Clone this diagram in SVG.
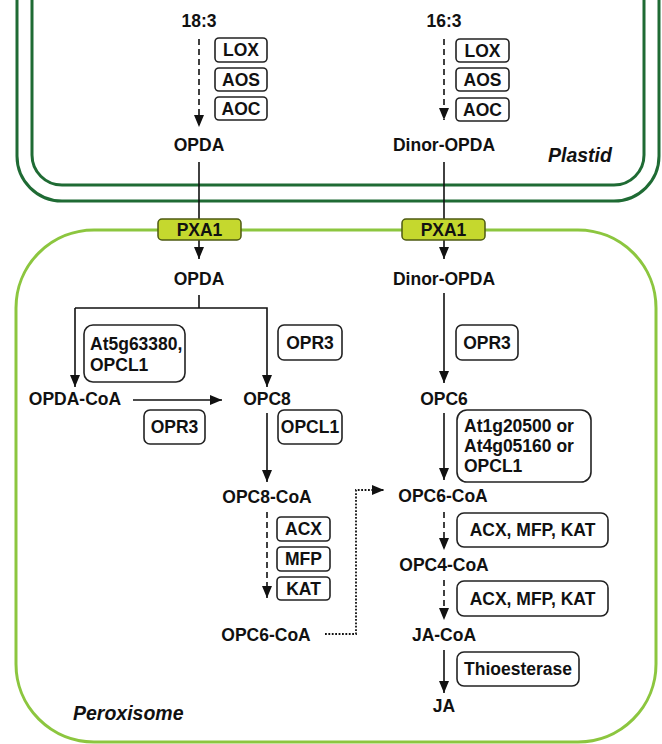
<svg xmlns="http://www.w3.org/2000/svg" width="662" height="744" viewBox="0 0 662 744">
<defs>
<marker id="ah" viewBox="0 0 12 10" refX="12" refY="5" markerWidth="12" markerHeight="10" markerUnits="userSpaceOnUse" orient="auto"><path d="M0,0 L12,5 L0,10 z" fill="#111"/></marker>
<style>
.t{font-family:"Liberation Sans",Arial,sans-serif;font-weight:bold;font-size:17.5px;fill:#111;text-anchor:middle}
.tl{font-family:"Liberation Sans",Arial,sans-serif;font-weight:bold;font-size:17.5px;fill:#111}
.it{font-family:"Liberation Sans",Arial,sans-serif;font-weight:bold;font-style:italic;font-size:19.5px;fill:#111}
.box{fill:#fff;stroke:#222;stroke-width:1.6}
.pl{fill:none;stroke:#1f6b34;stroke-width:3}
.px{fill:none;stroke:#8cc63f;stroke-width:3}
.pxa{fill:#c5d82e;stroke:#4d5a12;stroke-width:1.5}
.s{fill:none;stroke:#111;stroke-width:1.6}
.d{fill:none;stroke:#111;stroke-width:1.6;stroke-dasharray:6,4}
.o{fill:none;stroke:#111;stroke-width:1.8;stroke-dasharray:1.8,1.6}
</style>
</defs>
<g id="membranes">
<path class="pl" d="M32,0 V155 A30,30 0 0 0 62,185 H614 A30,30 0 0 0 644,155 V0"/>
<path class="pl" d="M17,0 V156 A45,45 0 0 0 62,201 H614 A45,45 0 0 0 659,156 V0"/>
<rect class="px" x="16" y="230" width="640" height="512" rx="78" ry="78"/>
<text class="it" x="548" y="162">Plastid</text>
<text class="it" x="73" y="720">Peroxisome</text>
</g>
<g id="connectors">
<line class="d" x1="199" y1="39" x2="199" y2="127" marker-end="url(#ah)"/>
<line class="d" x1="444" y1="39" x2="444" y2="120" marker-end="url(#ah)"/>
<line class="s" x1="199" y1="162" x2="199" y2="259" marker-end="url(#ah)"/>
<line class="s" x1="444" y1="162" x2="444" y2="259" marker-end="url(#ah)"/>
<path class="s" d="M199,295 V308"/>
<path class="s" d="M75,308 H267 V387" marker-end="url(#ah)"/>
<line class="s" x1="75" y1="308" x2="75" y2="387" marker-end="url(#ah)"/>
<line class="s" x1="133" y1="400" x2="222" y2="400" marker-end="url(#ah)"/>
<line class="s" x1="267" y1="413" x2="267" y2="482" marker-end="url(#ah)"/>
<line class="d" x1="267" y1="512" x2="267" y2="598" marker-end="url(#ah)"/>
<path class="o" d="M325,634 H356 V490 H384" marker-end="url(#ah)"/>
<line class="s" x1="444" y1="293" x2="444" y2="383" marker-end="url(#ah)"/>
<line class="s" x1="444" y1="413" x2="444" y2="480" marker-end="url(#ah)"/>
<line class="d" x1="444" y1="512" x2="444" y2="550" marker-end="url(#ah)"/>
<line class="d" x1="444" y1="580" x2="444" y2="620" marker-end="url(#ah)"/>
<line class="s" x1="444" y1="650" x2="444" y2="693" marker-end="url(#ah)"/>
</g>
<g id="pxa1-left"><rect class="pxa" x="158" y="219" width="83" height="21" rx="4"/><text class="t" x="199.5" y="236">PXA1</text></g>
<g id="pxa1-right"><rect class="pxa" x="402" y="219" width="83" height="21" rx="4"/><text class="t" x="443.5" y="236">PXA1</text></g>
<g id="n-183"><text class="t" x="199" y="27">18:3</text></g>
<g id="n-163"><text class="t" x="444" y="27">16:3</text></g>
<g id="e-lox1"><rect class="box" x="215" y="38" width="52" height="24" rx="4"/><text class="t" x="241" y="56">LOX</text></g>
<g id="e-aos1"><rect class="box" x="215" y="68" width="52" height="23" rx="4"/><text class="t" x="241" y="86">AOS</text></g>
<g id="e-aoc1"><rect class="box" x="215" y="97" width="52" height="23" rx="4"/><text class="t" x="241" y="115">AOC</text></g>
<g id="e-lox2"><rect class="box" x="456" y="39" width="53" height="23" rx="4"/><text class="t" x="482.5" y="57">LOX</text></g>
<g id="e-aos2"><rect class="box" x="456" y="68" width="53" height="23" rx="4"/><text class="t" x="482.5" y="86">AOS</text></g>
<g id="e-aoc2"><rect class="box" x="456" y="98" width="53" height="23" rx="4"/><text class="t" x="482.5" y="116">AOC</text></g>
<g id="n-opda-plastid"><text class="t" x="199" y="151">OPDA</text></g>
<g id="n-dinor-plastid"><text class="t" x="444" y="151">Dinor-OPDA</text></g>
<g id="n-opda"><text class="t" x="199" y="285">OPDA</text></g>
<g id="n-dinor"><text class="t" x="444" y="285">Dinor-OPDA</text></g>
<g id="e-at5g"><rect class="box" x="84" y="325" width="101" height="57" rx="9"/><text class="tl" x="90" y="350">At5g63380,</text><text class="tl" x="90" y="371">OPCL1</text></g>
<g id="e-opr3a"><rect class="box" x="278" y="325" width="64" height="35" rx="6"/><text class="t" x="310" y="349">OPR3</text></g>
<g id="n-opdacoa"><text class="t" x="75" y="405">OPDA-CoA</text></g>
<g id="n-opc8"><text class="t" x="267" y="405">OPC8</text></g>
<g id="e-opr3b"><rect class="box" x="144" y="410" width="61" height="34" rx="6"/><text class="t" x="174.5" y="433">OPR3</text></g>
<g id="e-opcl1"><rect class="box" x="278" y="410" width="64" height="34" rx="6"/><text class="t" x="310" y="433">OPCL1</text></g>
<g id="n-opc8coa"><text class="t" x="267" y="503">OPC8-CoA</text></g>
<g id="e-acx1"><rect class="box" x="277" y="517" width="53" height="24" rx="4"/><text class="t" x="303.5" y="535">ACX</text></g>
<g id="e-mfp1"><rect class="box" x="277" y="547" width="53" height="24" rx="4"/><text class="t" x="303.5" y="565">MFP</text></g>
<g id="e-kat1"><rect class="box" x="277" y="577" width="53" height="23" rx="4"/><text class="t" x="303.5" y="595">KAT</text></g>
<g id="n-opc6coa-left"><text class="t" x="266" y="641">OPC6-CoA</text></g>
<g id="e-opr3c"><rect class="box" x="456" y="325" width="62" height="35" rx="6"/><text class="t" x="487" y="349">OPR3</text></g>
<g id="n-opc6"><text class="t" x="444" y="405">OPC6</text></g>
<g id="e-at1g"><rect class="box" x="457" y="410" width="134" height="72" rx="10"/><text class="tl" x="464" y="432">At1g20500 or</text><text class="tl" x="464" y="452">At4g05160 or</text><text class="tl" x="464" y="472">OPCL1</text></g>
<g id="n-opc6coa"><text class="t" x="443" y="502">OPC6-CoA</text></g>
<g id="e-amk1"><rect class="box" x="457" y="513" width="151" height="34" rx="7"/><text class="t" x="532.5" y="536">ACX, MFP, KAT</text></g>
<g id="n-opc4coa"><text class="t" x="444" y="571">OPC4-CoA</text></g>
<g id="e-amk2"><rect class="box" x="457" y="581" width="151" height="35" rx="7"/><text class="t" x="532.5" y="605">ACX, MFP, KAT</text></g>
<g id="n-jacoa"><text class="t" x="444" y="641">JA-CoA</text></g>
<g id="e-thio"><rect class="box" x="457" y="652" width="122" height="34" rx="7"/><text class="t" x="518" y="675">Thioesterase</text></g>
<g id="n-ja"><text class="t" x="444" y="712">JA</text></g>
</svg>
